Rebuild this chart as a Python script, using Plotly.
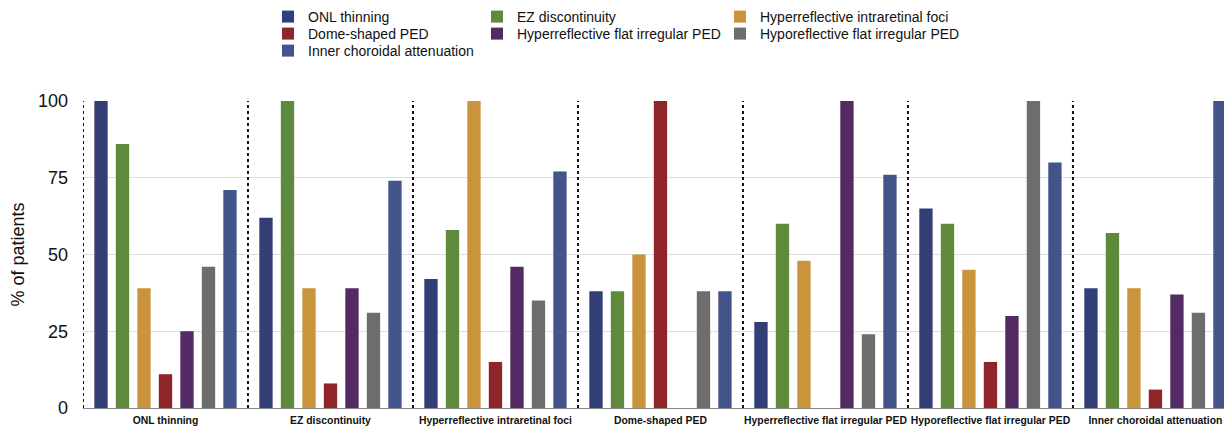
import plotly.graph_objects as go

categories = ["ONL thinning", "EZ discontinuity", "Hyperreflective intraretinal foci",
              "Dome-shaped PED", "Hyperreflective flat irregular PED",
              "Hyporeflective flat irregular PED", "Inner choroidal attenuation"]

series_names = ["ONL thinning", "EZ discontinuity", "Hyperreflective intraretinal foci",
                "Dome-shaped PED", "Hyperreflective flat irregular PED",
                "Hyporeflective flat irregular PED", "Inner choroidal attenuation"]

onl_thinning = [100, 62, 42, 38, 28, 65, 39]
ez_discontinuity = [86, 100, 58, 38, 60, 60, 57]
hyper_intraretinal_foci = [39, 39, 100, 50, 48, 45, 39]
dome_shaped_ped = [11, 8, 15, 100, 0, 15, 6]
hyper_flat_irregular_ped = [25, 39, 46, 0, 100, 30, 37]
hypo_flat_irregular_ped = [46, 31, 35, 38, 24, 100, 31]
inner_choroidal_attenuation = [71, 74, 77, 38, 76, 80, 100]

y_ticks = [0, 25, 50, 75, 100]

series_values = [onl_thinning, ez_discontinuity, hyper_intraretinal_foci, dome_shaped_ped,
                 hyper_flat_irregular_ped, hypo_flat_irregular_ped, inner_choroidal_attenuation]
colors = ["#323f77", "#5f8a3b", "#c9943b", "#8f2429", "#532a63", "#6c6d6c", "#43548a"]

OFF = 8  # page body margin
W, H = 1232 - OFF, 426 - OFF
ML, MR, MT, MB = 83 - OFF, 0, 101 - OFF, 18
PW, PH = W - ML - MR, H - MT - MB

# legend layout: (column text-left px, row center px) in window pixels
legend_pos = [(308, 17), (517, 17), (760, 17),
              (308, 34), (517, 34), (760, 34),
              (308, 51)]

fig = go.Figure()
for i, (name, vals, col) in enumerate(zip(series_names, series_values, colors)):
    lg = "legend" if i == 0 else f"legend{i+1}"
    fig.add_trace(go.Bar(name=name, x=categories, y=vals, marker_color=col,
                         marker_line_width=0, legend=lg, showlegend=True))

layout_legends = {}
for i, (tx, ty) in enumerate(legend_pos):
    key = "legend" if i == 0 else f"legend{i+1}"
    layout_legends[key] = dict(
        x=(tx - OFF - 40 - ML) / PW, y=(H - MB - (ty - OFF)) / PH,
        xanchor="left", yanchor="middle", bgcolor="rgba(0,0,0,0)",
        font=dict(family="Liberation Sans, Arial, sans-serif", size=14, color="#111"),
        borderwidth=0)

shapes = []
for i in range(len(categories)):
    shapes.append(dict(type="line", xref="x", yref="y", x0=i - 0.5, x1=i - 0.5,
                       y0=0, y1=100, line=dict(color="#111", width=2, dash="dot")))

fig.update_layout(
    width=W, height=H, showlegend=True,
    margin=dict(l=ML, r=MR, t=MT, b=MB, autoexpand=False),
    paper_bgcolor="white", plot_bgcolor="white",
    barmode="group", bargap=0.088, bargroupgap=0.38,
    font=dict(family="Liberation Sans, Arial, sans-serif", color="#111"),
    shapes=shapes,
    **layout_legends,
)
fig.update_xaxes(range=[-0.5, 6.464], showgrid=False, showline=True, linecolor="#888",
                 linewidth=1, ticks="", automargin=False, ticklabelstandoff=3,
                 tickangle=0,
                 tickfont=dict(family="Liberation Sans, Arial, sans-serif", size=10.4,
                               color="#111", weight="bold"))
fig.update_yaxes(range=[0, 100], tickvals=y_ticks, showgrid=True, gridcolor="#dedede",
                 gridwidth=1, showline=False, zeroline=False, ticks="", automargin=False,
                 ticklabelstandoff=14,
                 tickfont=dict(size=18, color="#111"),
                 title=dict(text="% of patients", font=dict(size=18, color="#111"),
                            standoff=10))
fig.write_html("out.html")
